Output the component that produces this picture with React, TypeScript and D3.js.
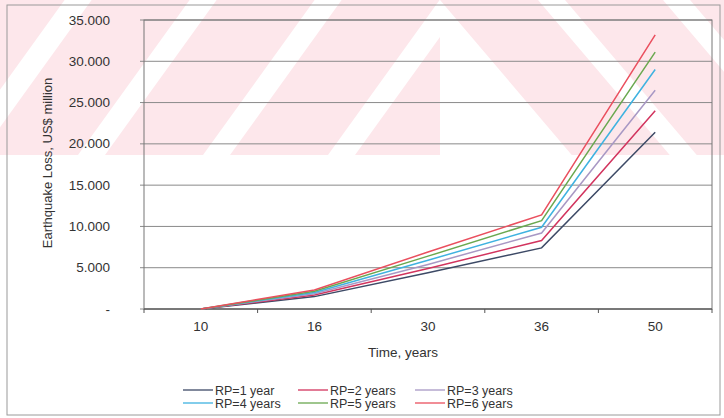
import React from "react";
import * as d3 from "d3";

const categories = ["10", "16", "30", "36", "50"];
const seriesNames = ["RP=1 year", "RP=2 years", "RP=3 years", "RP=4 years", "RP=5 years", "RP=6 years"];
const rp1 = [0, 1500, 4400, 7400, 21400];
const rp2 = [0, 1700, 4900, 8300, 24000];
const rp3 = [0, 1850, 5400, 9200, 26500];
const rp4 = [0, 2000, 5900, 9900, 29000];
const rp5 = [0, 2150, 6400, 10700, 31100];
const rp6 = [0, 2300, 6900, 11400, 33200];
const seriesValues = [rp1, rp2, rp3, rp4, rp5, rp6];
const seriesColors = ["#3d4a66", "#d2345e", "#a898c4", "#3fb2e0", "#6aa84f", "#ea4f5e"];
const yTicks = [0, 5000, 10000, 15000, 20000, 25000, 30000, 35000];

const W = 724;
const H = 418;
const left = 144, right = 712, top = 20, bottom = 309;
const font = "'Liberation Sans', Arial, sans-serif";

export default function App() {
  const x = d3.scaleBand<string>().domain(categories).range([left, right]).padding(0);
  const y = d3.scaleLinear().domain([0, 35000]).range([bottom, top]);
  const loc = d3.formatLocale({ decimal: ",", thousands: ".", grouping: [3], currency: ["", ""] });
  const fmt = loc.format(",.0f");
  const line = d3
    .line<number>()
    .x((_, i) => (x(categories[i]) as number) + x.bandwidth() / 2)
    .y((d) => y(d));

  // watermark stripes (decoration)
  const stripesL: string[] = [];
  for (let k = -2; k < 6; k++) {
    const x0 = k * 125 - 20;
    const w = 98;
    const s = 0.72;
    stripesL.push(`${x0 + 155 * s},0 ${x0 + 155 * s + w},0 ${x0 + w},155 ${x0},155`);
  }
  const stripesR: string[] = [];
  for (let k = 0; k < 4; k++) {
    const x0 = 440 + k * 125;
    const w = 98;
    const s = 0.85;
    stripesR.push(`${x0},0 ${x0 + w},0 ${x0 + w + 155 * s},155 ${x0 + 155 * s},155`);
  }

  const legendCols = [183, 298, 415];
  const legendRows = [390, 403];

  return (
    <svg width={W} height={H} style={{ position: "absolute", left: 0, top: 0, background: "#fff" }}>
      <defs>
        <clipPath id="wmL">
          <rect x={0} y={0} width={440} height={155} />
        </clipPath>
        <clipPath id="wmR">
          <rect x={440} y={0} width={284} height={155} />
        </clipPath>
      </defs>
      <rect x={0} y={0} width={W} height={H} fill="#fff" />
      <g clipPath="url(#wmL)" fill="#fde7eb">
        {stripesL.map((p, i) => (
          <polygon key={i} points={p} />
        ))}
      </g>
      <g clipPath="url(#wmR)" fill="#fde7eb">
        {stripesR.map((p, i) => (
          <polygon key={i} points={p} />
        ))}
      </g>
      <rect x={7} y={5} width={713} height={410} fill="none" stroke="#9a9a9a" strokeWidth={1} />

      {/* grid */}
      {yTicks.map((t) => (
        <g key={t}>
          <line x1={left - 4} x2={right} y1={y(t)} y2={y(t)} stroke="#8a8a8a" strokeWidth={1} />
          <text x={110} y={y(t) + 4.5} textAnchor="end" fontFamily={font} fontSize={13.5} fill="#333">
            {t === 0 ? "-" : fmt(t)}
          </text>
        </g>
      ))}
      <rect x={left} y={top} width={right - left} height={bottom - top} fill="none" stroke="#777" strokeWidth={1} />
      <line x1={left} x2={right} y1={bottom} y2={bottom} stroke="#555" strokeWidth={1.2} />
      {categories.map((c, i) => (
        <g key={c}>
          <line
            x1={(x(c) as number) + x.bandwidth()}
            x2={(x(c) as number) + x.bandwidth()}
            y1={bottom}
            y2={bottom + 4}
            stroke="#555"
          />
          {i === 0 && <line x1={left} x2={left} y1={bottom} y2={bottom + 4} stroke="#555" />}
          <text
            x={(x(c) as number) + x.bandwidth() / 2}
            y={331}
            textAnchor="middle"
            fontFamily={font}
            fontSize={13.5}
            fill="#333"
          >
            {c}
          </text>
        </g>
      ))}

      {seriesValues.map((vals, i) => (
        <path key={i} d={line(vals) as string} fill="none" stroke={seriesColors[i]} strokeWidth={1.5} />
      ))}

      <text x={403} y={357} textAnchor="middle" fontFamily={font} fontSize={13.5} fill="#333">
        Time, years
      </text>
      <text
        transform={`translate(52,163) rotate(-90)`}
        textAnchor="middle"
        fontFamily={font}
        fontSize={13}
        fill="#333"
      >
        Earthquake Loss, US$ million
      </text>

      {seriesNames.map((n, i) => {
        const cx = legendCols[i % 3];
        const cy = legendRows[Math.floor(i / 3)];
        return (
          <g key={n}>
            <line x1={cx} x2={cx + 30} y1={cy} y2={cy} stroke={seriesColors[i]} strokeWidth={1.3} />
            <text x={cx + 32} y={cy + 4.5} fontFamily={font} fontSize={12.5} fill="#333">
              {n}
            </text>
          </g>
        );
      })}
    </svg>
  );
}
